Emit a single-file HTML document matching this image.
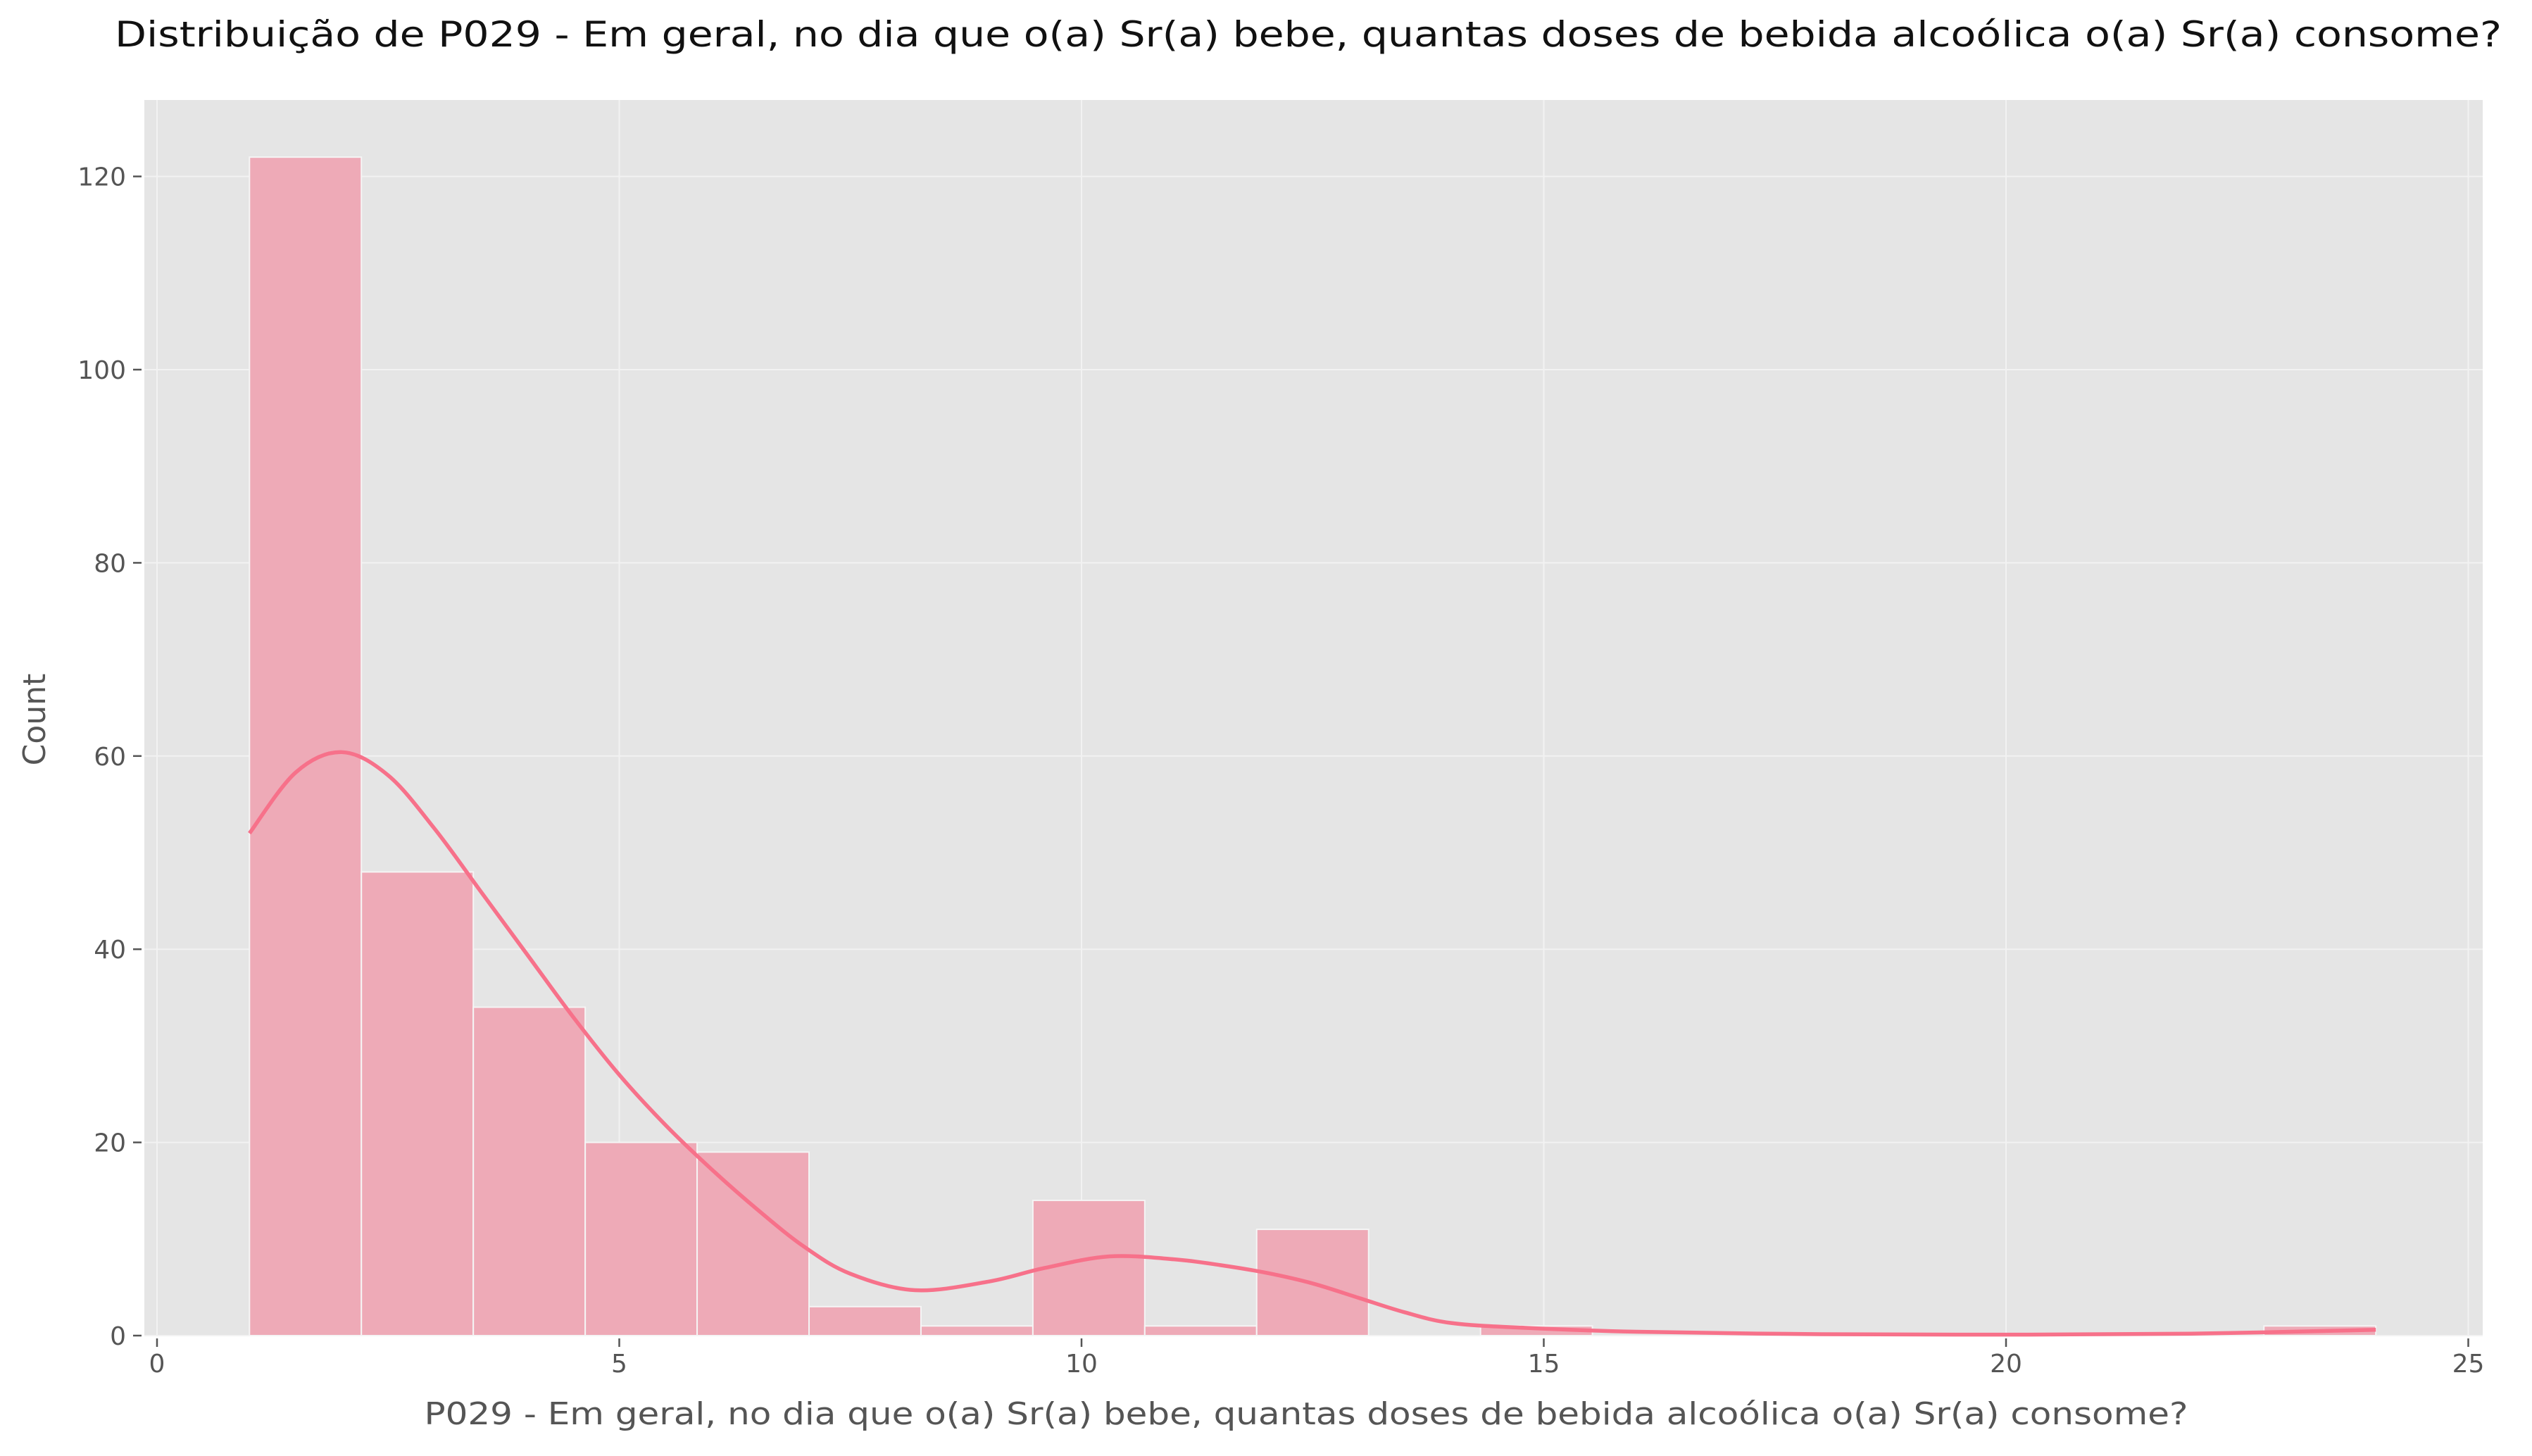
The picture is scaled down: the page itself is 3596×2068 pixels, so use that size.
<!DOCTYPE html>
<html><head><meta charset="utf-8"><style>
html,body{margin:0;padding:0;background:#fff;}
svg text{font-family:"DejaVu Sans","Liberation Sans",sans-serif;fill:#555;}
</style></head>
<body>
<svg id="chart" width="3596" height="2063" viewBox="0 0 3596 2063" xmlns="http://www.w3.org/2000/svg">
<rect x="205" y="142" width="3321" height="1755" fill="#e5e5e5"/>
<g id="grid"></g>
<g id="bars"></g>
<path id="kde" fill="none" stroke="#f7718a" stroke-width="5.5"/>
<g id="axes"></g>
<text x="1858" y="66" text-anchor="middle" font-size="50" style="fill:#111" textLength="3390" lengthAdjust="spacingAndGlyphs">Distribuição de P029 - Em geral, no dia que o(a) Sr(a) bebe, quantas doses de bebida alcoólica o(a) Sr(a) consome?</text>
<text x="1855" y="2023" text-anchor="middle" font-size="44" textLength="2505" lengthAdjust="spacingAndGlyphs">P029 - Em geral, no dia que o(a) Sr(a) bebe, quantas doses de bebida alcoólica o(a) Sr(a) consome?</text>
<text transform="translate(64,1022) rotate(-90)" text-anchor="middle" font-size="44">Count</text>
</svg>
<script>
const binStart = 1;
const binEnd = 24;
const counts = [122,48,34,20,19,3,1,14,1,11,0,1,0,0,0,0,0,0,1];
const kdeX = [1,1.5,2,2.5,3,3.5,4,4.5,5,5.5,6,6.5,7,7.5,8.2,9,9.6,10.3,11,11.5,12,12.5,13,13.5,14,14.8,16,18,20,22,24];
const kdeY = [52,58.3,60.4,58,52.5,46,39.5,33,27,21.8,17.2,13,9.2,6.4,4.7,5.6,7,8.2,7.9,7.3,6.5,5.4,3.9,2.4,1.3,0.8,0.4,0.15,0.1,0.2,0.6];
const xTicks = [0,5,10,15,20,25];
const yTicks = [0,20,40,60,80,100,120];

const NS = "http://www.w3.org/2000/svg";
const L=205,R=3526,T=142,B=1897;
const X = v => 223 + v*131.3;
const Y = v => 1897 - v*13.72;
function mk(tag, attrs, parent){const e=document.createElementNS(NS,tag);for(const k in attrs)e.setAttribute(k,attrs[k]);parent.appendChild(e);return e;}
const grid=document.getElementById('grid'), bars=document.getElementById('bars'), axes=document.getElementById('axes');
xTicks.forEach(t=>{
  const g=mk('line',{x1:X(t),x2:X(t),y1:T,y2:B,stroke:'#f2f2f2','stroke-width':2},grid);
  
  
  const tk=mk('line',{x1:X(t),x2:X(t),y1:B+4,y2:B+16,stroke:'#555','stroke-width':2.5},axes);
  
  
  const lb=mk('text',{x:X(t),y:B+52,'text-anchor':'middle','font-size':36},axes);
  lb.textContent=t;
  
  
});
yTicks.forEach(t=>{
  const g=mk('line',{x1:L,x2:R,y1:Y(t),y2:Y(t),stroke:'#f2f2f2','stroke-width':2},grid);
  
  
  const tk=mk('line',{x1:L-16,x2:L-4,y1:Y(t),y2:Y(t),stroke:'#555','stroke-width':2.5},axes);
  
  
  const lb=mk('text',{x:L-26,y:Y(t)+13,'text-anchor':'end','font-size':36},axes);
  lb.textContent=t;
  
  
});
const w=(binEnd-binStart)/counts.length;
counts.forEach((c,i)=>{
  if(c<=0) return;
  const x0=X(binStart+i*w), x1=X(binStart+(i+1)*w);
  const r=mk('rect',{x:x0,y:Y(c),width:x1-x0,height:Y(0)-Y(c),fill:'#eeaab7',stroke:'#f5f5f5','stroke-width':2},bars);
  
  
});
const pts=kdeX.map((x,i)=>[X(x),Y(kdeY[i])]);
let d='M'+pts[0][0]+','+pts[0][1];
for(let i=0;i<pts.length-1;i++){
  const p0=pts[Math.max(0,i-1)],p1=pts[i],p2=pts[i+1],p3=pts[Math.min(pts.length-1,i+2)];
  const c1=[p1[0]+(p2[0]-p0[0])/6,p1[1]+(p2[1]-p0[1])/6];
  const c2=[p2[0]-(p3[0]-p1[0])/6,p2[1]-(p3[1]-p1[1])/6];
  d+=' C'+c1[0]+','+c1[1]+' '+c2[0]+','+c2[1]+' '+p2[0]+','+p2[1];
}
document.getElementById('kde').setAttribute('d',d);
</script>
</body></html>
